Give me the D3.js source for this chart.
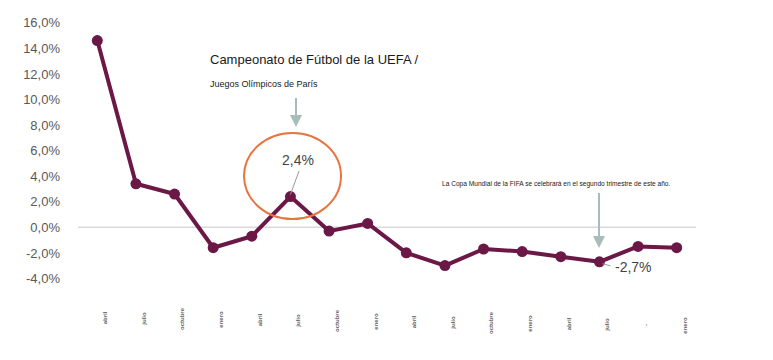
<!DOCTYPE html>
<html>
<head>
<meta charset="utf-8">
<script src="https://cdn.jsdelivr.net/npm/d3@7"></script>
<style>
  body { margin: 0; background: #fff; }
  svg { font-family: "Liberation Sans", Arial, sans-serif; display: block; }
</style>
</head>
<body>
<div id="graph"></div>
<script>
const months = ['abril', 'julio', 'octubre', 'enero', 'abril', 'julio', 'octubre', 'enero',
                'abril', 'julio', 'octubre', 'enero', 'abril', 'julio', '-', 'enero'];
const growth = [14.6, 3.4, 2.6, -1.6, -0.7, 2.4, -0.3, 0.3, -2.0, -3.0, -1.7, -1.9, -2.3, -2.7, -1.5, -1.6];
const yTicks = [-4, -2, 0, 2, 4, 6, 8, 10, 12, 14, 16];

const width = 773;
const height = 360;
const margin = {top: 22.7, bottom: 81.6, left: 78, right: 77};

const fmt = d => d.toFixed(1).replace('.', ',') + '%';

const svg = d3.select('#graph')
    .append('svg')
        .attr('width', width)
        .attr('height', height)
        .attr('viewBox', [0, 0, width, height]);

const x = d3.scaleBand()
    .domain(d3.range(growth.length))
    .range([margin.left, width - margin.right]);

const y = d3.scaleLinear()
    .domain([-4, 16])
    .range([height - margin.bottom, margin.top]);

const cx = i => x(i) + x.bandwidth() / 2;

// y axis, labels only
function yAxis(g) {
    g.attr('transform', `translate(63, 0)`)
        .call(d3.axisLeft(y).tickValues(yTicks).tickFormat(fmt).tickSize(0).tickPadding(3))
        .attr('font-size', '13px')
        .attr('font-family', null)
        .call(g => g.select('.domain').remove())
        .call(g => g.selectAll('text').attr('fill', '#595959'));
}
svg.append('g').call(yAxis);

// zero line
svg.append('line')
    .attr('x1', margin.left)
    .attr('x2', width - margin.right)
    .attr('y1', y(0))
    .attr('y2', y(0))
    .attr('stroke', '#d9d9d9')
    .attr('stroke-width', 1.5);

// x labels, tiny and rotated
svg.append('g')
    .selectAll('text')
    .data(months)
    .join('text')
        .attr('transform', (d, i) => `translate(${cx(i) + 8}, ${318 + i * 0.5}) rotate(-90)`)
        .attr('text-anchor', 'middle')
        .attr('dy', '0.32em')
        .attr('font-size', '6px')
        .attr('font-weight', 'bold')
        .attr('fill', '#666')
        .text(d => d);

// line + markers
const maroon = '#6b1847';
const line = d3.line()
    .x((d, i) => cx(i))
    .y(d => y(d));

svg.append('path')
    .datum(growth)
    .attr('fill', 'none')
    .attr('stroke', maroon)
    .attr('stroke-width', 4)
    .attr('stroke-linejoin', 'round')
    .attr('d', line);

svg.append('g')
    .attr('fill', maroon)
    .selectAll('circle')
    .data(growth)
    .join('circle')
        .attr('cx', (d, i) => cx(i))
        .attr('cy', d => y(d))
        .attr('r', 5.5);

// arrow helper
const arrowColor = '#a9bcbc';
function arrow(xa, yTop, yHead, yTip) {
    svg.append('line')
        .attr('x1', xa).attr('x2', xa)
        .attr('y1', yTop).attr('y2', yHead)
        .attr('stroke', arrowColor)
        .attr('stroke-width', 2);
    svg.append('path')
        .attr('d', `M${xa - 6},${yHead} L${xa + 6},${yHead} L${xa},${yTip} Z`)
        .attr('fill', arrowColor);
}

// UEFA / Paris annotation
svg.append('text')
    .attr('x', 210).attr('y', 64)
    .attr('font-size', '13px')
    .attr('fill', '#1a1a1a')
    .text('Campeonato de Fútbol de la UEFA /');
svg.append('text')
    .attr('x', 210).attr('y', 87)
    .attr('font-size', '9px')
    .attr('fill', '#1a1a1a')
    .text('Juegos Olímpicos de París');
arrow(296, 98, 115, 127);

svg.append('ellipse')
    .attr('cx', 292.5).attr('cy', 176)
    .attr('rx', 48.5).attr('ry', 43)
    .attr('fill', 'none')
    .attr('stroke', '#e8743f')
    .attr('stroke-width', 2);

svg.append('text')
    .attr('x', 298).attr('y', 165)
    .attr('text-anchor', 'middle')
    .attr('font-size', '14px')
    .attr('fill', '#444')
    .text(fmt(growth[5]));
svg.append('line')
    .attr('x1', 299).attr('y1', 171)
    .attr('x2', cx(5)).attr('y2', y(growth[5]) - 2)
    .attr('stroke', '#999')
    .attr('stroke-width', 1);

// FIFA annotation
svg.append('text')
    .attr('x', 442).attr('y', 186)
    .attr('font-size', '6.6px')
    .attr('fill', '#1a1a1a')
    .text('La Copa Mundial de la FIFA se celebrará en el segundo trimestre de este año.');
arrow(599, 193, 236, 248);

svg.append('line')
    .attr('x1', cx(13) + 3).attr('y1', y(growth[13]) + 2)
    .attr('x2', cx(13) + 11).attr('y2', y(growth[13]) + 4)
    .attr('stroke', '#999')
    .attr('stroke-width', 1);
svg.append('text')
    .attr('x', 615).attr('y', 272)
    .attr('font-size', '14px')
    .attr('fill', '#444')
    .text(fmt(growth[13]));
</script>
</body>
</html>
